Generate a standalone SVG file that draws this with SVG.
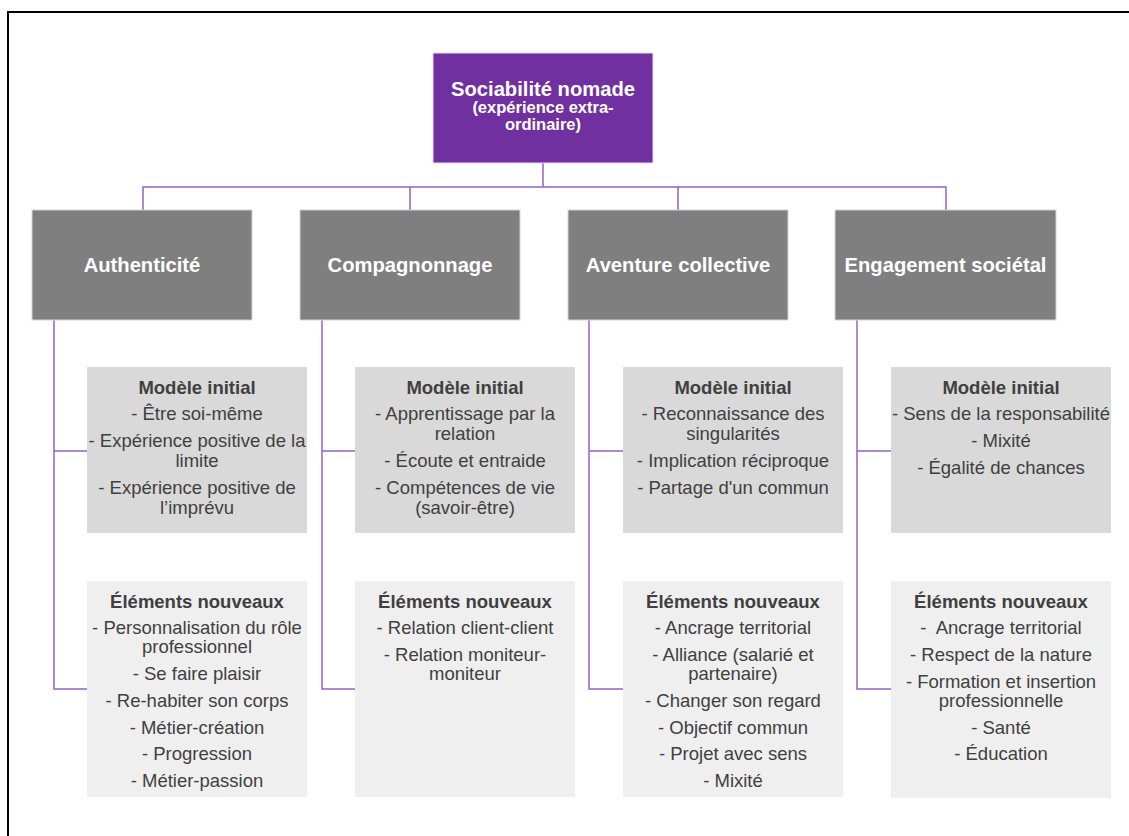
<svg xmlns="http://www.w3.org/2000/svg" width="1129" height="836" viewBox="0 0 1129 836">
<style>
.bg{fill:#ffffff}
.frame{fill:none;stroke:#000000;stroke-width:2}
.conn{fill:none;stroke:#9461C5;stroke-width:1.5}
.root{fill:#7030A0;stroke:#E6DAF0;stroke-width:1}
.cat{fill:#7F7F7F;stroke:#D4D4D4;stroke-width:1}
.mi{fill:#D9D9D9}
.en{fill:#EFEFEF}
text{font-family:"Liberation Sans",Arial,Helvetica,sans-serif;text-anchor:middle}
.title{font-size:20.2px;font-weight:bold;fill:#ffffff}
.sub{font-size:16.5px;font-weight:bold;fill:#ffffff}
.catl{font-size:20.2px;font-weight:bold;fill:#ffffff}
.head{font-size:18.5px;font-weight:bold;fill:#404040}
.body{font-size:18.5px;fill:#404040}
</style>
<rect class="bg" x="0" y="0" width="1129" height="836"/>
<path class="frame" d="M8,836 V12 H1129"/>

<g id="connectors">
  <path class="conn" d="M543,163 V187"/>
  <path class="conn" d="M143,210 V187 H946 V210"/>
  <path class="conn" d="M410,187 V210"/>
  <path class="conn" d="M678,187 V210"/>
  <path class="conn" d="M54,320 V689 H87 M54,451 H87"/>
  <path class="conn" d="M322,320 V689 H355 M322,451 H355"/>
  <path class="conn" d="M589,320 V689 H623 M589,451 H623"/>
  <path class="conn" d="M857,320 V689 H891 M857,451 H891"/>
</g>

<g id="root">
  <rect class="root" x="433" y="53" width="220" height="110"/>
  <text class="title" x="543" y="96">Sociabilité nomade</text>
  <text class="sub" x="543" y="113">(expérience extra-</text>
  <text class="sub" x="543" y="130">ordinaire)</text>
</g>

<g id="cat-authenticite">
  <rect class="cat" x="32" y="210" width="220" height="110"/>
  <text class="catl" x="142" y="272">Authenticité</text>
</g>
<g id="cat-compagnonnage">
  <rect class="cat" x="300" y="210" width="220" height="110"/>
  <text class="catl" x="410" y="272">Compagnonnage</text>
</g>
<g id="cat-aventure">
  <rect class="cat" x="568" y="210" width="220" height="110"/>
  <text class="catl" x="678" y="272">Aventure collective</text>
</g>
<g id="cat-engagement">
  <rect class="cat" x="835" y="210" width="221" height="110"/>
  <text class="catl" x="945.5" y="272">Engagement sociétal</text>
</g>

<g id="mi-authenticite">
  <rect class="mi" x="87" y="367" width="220" height="166"/>
  <text class="head" x="197" y="394">Modèle initial</text>
  <text class="body" x="197" y="420">- Être soi-même</text>
  <text class="body" x="197" y="447">- Expérience positive de la</text>
  <text class="body" x="197" y="467">limite</text>
  <text class="body" x="197" y="494">- Expérience positive de</text>
  <text class="body" x="197" y="514">l’imprévu</text>
</g>
<g id="mi-compagnonnage">
  <rect class="mi" x="355" y="367" width="220" height="166"/>
  <text class="head" x="465" y="394">Modèle initial</text>
  <text class="body" x="465" y="420">- Apprentissage par la</text>
  <text class="body" x="465" y="440">relation</text>
  <text class="body" x="465" y="467">- Écoute et entraide</text>
  <text class="body" x="465" y="494">- Compétences de vie</text>
  <text class="body" x="465" y="514">(savoir-être)</text>
</g>
<g id="mi-aventure">
  <rect class="mi" x="623" y="367" width="220" height="166"/>
  <text class="head" x="733" y="394">Modèle initial</text>
  <text class="body" x="733" y="420">- Reconnaissance des</text>
  <text class="body" x="733" y="440">singularités</text>
  <text class="body" x="733" y="467">- Implication réciproque</text>
  <text class="body" x="733" y="494">- Partage d'un commun</text>
</g>
<g id="mi-engagement">
  <rect class="mi" x="891" y="367" width="220" height="166"/>
  <text class="head" x="1001" y="394">Modèle initial</text>
  <text class="body" x="1001" y="420">- Sens de la responsabilité</text>
  <text class="body" x="1001" y="447">- Mixité</text>
  <text class="body" x="1001" y="474">- Égalité de chances</text>
</g>

<g id="en-authenticite">
  <rect class="en" x="87" y="581" width="220" height="216"/>
  <text class="head" x="197" y="608">Éléments nouveaux</text>
  <text class="body" x="197" y="634">- Personnalisation du rôle</text>
  <text class="body" x="197" y="653">professionnel</text>
  <text class="body" x="197" y="680">- Se faire plaisir</text>
  <text class="body" x="197" y="707">- Re-habiter son corps</text>
  <text class="body" x="197" y="734">- Métier-création</text>
  <text class="body" x="197" y="760">- Progression</text>
  <text class="body" x="197" y="787">- Métier-passion</text>
</g>
<g id="en-compagnonnage">
  <rect class="en" x="355" y="581" width="220" height="216"/>
  <text class="head" x="465" y="608">Éléments nouveaux</text>
  <text class="body" x="465" y="634">- Relation client-client</text>
  <text class="body" x="465" y="661">- Relation moniteur-</text>
  <text class="body" x="465" y="680">moniteur</text>
</g>
<g id="en-aventure">
  <rect class="en" x="623" y="581" width="220" height="216"/>
  <text class="head" x="733" y="608">Éléments nouveaux</text>
  <text class="body" x="733" y="634">- Ancrage territorial</text>
  <text class="body" x="733" y="661">- Alliance (salarié et</text>
  <text class="body" x="733" y="680">partenaire)</text>
  <text class="body" x="733" y="707">- Changer son regard</text>
  <text class="body" x="733" y="734">- Objectif commun</text>
  <text class="body" x="733" y="760">- Projet avec sens</text>
  <text class="body" x="733" y="787">- Mixité</text>
</g>
<g id="en-engagement">
  <rect class="en" x="891" y="581" width="220" height="217"/>
  <text class="head" x="1001" y="608">Éléments nouveaux</text>
  <text class="body" x="1001" y="634" xml:space="preserve">-  Ancrage territorial</text>
  <text class="body" x="1001" y="661">- Respect de la nature</text>
  <text class="body" x="1001" y="688">- Formation et insertion</text>
  <text class="body" x="1001" y="707">professionnelle</text>
  <text class="body" x="1001" y="734">- Santé</text>
  <text class="body" x="1001" y="760">- Éducation</text>
</g>
</svg>
